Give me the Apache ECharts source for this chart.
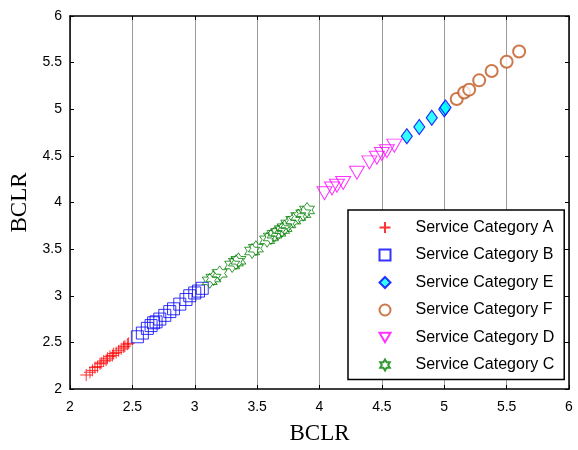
<!DOCTYPE html>
<html>
<head>
<meta charset="utf-8">
<script src="https://cdn.jsdelivr.net/npm/echarts@6/dist/echarts.min.js"></script>
<style>
  html, body { margin: 0; padding: 0; background: #fff; }
  #chart { width: 578px; height: 450px; }
</style>
</head>
<body>
<div id="chart"></div>
<script>
// values
const xTicks = [2, 2.5, 3, 3.5, 4, 4.5, 5, 5.5, 6];
const yTicks = [2, 2.5, 3, 3.5, 4, 4.5, 5, 5.5, 6];

const catA_x = [2.13, 2.16, 2.18, 2.2, 2.22, 2.24, 2.25, 2.27, 2.29, 2.3, 2.32, 2.34, 2.35, 2.37, 2.39, 2.41, 2.43, 2.44, 2.46, 2.47];
const catA_y = [2.15, 2.18, 2.2, 2.23, 2.24, 2.27, 2.28, 2.3, 2.31, 2.33, 2.35, 2.36, 2.38, 2.39, 2.41, 2.43, 2.45, 2.46, 2.48, 2.49];

const catB_x = [2.54, 2.58, 2.62, 2.65, 2.67, 2.69, 2.72, 2.76, 2.8, 2.83, 2.88, 2.93, 2.96, 3.0, 3.03, 3.06];
const catB_y = [2.56, 2.6, 2.65, 2.68, 2.71, 2.72, 2.75, 2.79, 2.83, 2.86, 2.91, 2.96, 3.0, 3.03, 3.05, 3.08];

const catE_x = [4.7, 4.8, 4.9, 5.0, 5.01];
const catE_y = [4.71, 4.81, 4.91, 5.0, 5.02];

const catF_x = [5.1, 5.16, 5.2, 5.28, 5.38, 5.5, 5.6];
const catF_y = [5.11, 5.18, 5.21, 5.31, 5.41, 5.51, 5.62];

const catD_x = [4.04, 4.1, 4.14, 4.19, 4.3, 4.4, 4.46, 4.5, 4.54, 4.6];
const catD_y = [4.1, 4.15, 4.18, 4.21, 4.32, 4.43, 4.48, 4.52, 4.55, 4.61];

const catC_x = [3.12, 3.15, 3.2, 3.3, 3.33, 3.35, 3.46, 3.49, 3.58, 3.61, 3.64, 3.67, 3.7, 3.72, 3.75, 3.79, 3.83, 3.87, 3.9];
const catC_y = [3.16, 3.19, 3.24, 3.33, 3.36, 3.38, 3.48, 3.51, 3.6, 3.63, 3.66, 3.68, 3.71, 3.73, 3.77, 3.81, 3.85, 3.88, 3.92];

const plusPath = 'path://M0,5 L10,5 M5,0 L5,10';
const triDownPath = 'path://M0,0 L10,0 L5,8.66 Z';
const starPath = 'path://M0,-10 L2.887,-5 L8.66,-5 L5.774,0 L8.66,5 L2.887,5 L0,10 L-2.887,5 L-8.66,5 L-5.774,0 L-8.66,-5 L-2.887,-5 Z';

const zip = (xs, ys) => xs.map((x, i) => [x, ys[i]]);

const chart = echarts.init(document.getElementById('chart'), null, { renderer: 'canvas' });

const tickFmt = v => (xTicks.includes(v) || yTicks.includes(v)) ? String(v) : '';

const option = {
  animation: false,
  backgroundColor: '#fff',
  grid: { left: 70, right: 9, top: 16, bottom: 60 },
  legend: {
    orient: 'vertical',
    left: 348,
    top: 210,
    backgroundColor: '#fff',
    borderColor: '#000',
    borderWidth: 1.5,
    borderRadius: 0,
    padding: [9, 10, 6, 29],
    itemWidth: 11,
    itemHeight: 11,
    itemGap: 10.5,
    textStyle: { fontFamily: 'Liberation Sans', fontSize: 16, color: '#000', lineHeight: 17, padding: [0, 0, 0, 20] },
    data: ['Service Category A', 'Service Category B', 'Service Category E', 'Service Category F', 'Service Category D', 'Service Category C']
  },
  xAxis: [{
    type: 'value', min: 2, max: 6, interval: 0.5,
    name: 'BCLR', nameLocation: 'middle', nameGap: 33,
    nameTextStyle: { fontFamily: 'Liberation Serif', fontSize: 23, color: '#000' },
    axisLine: { show: true, onZero: false, lineStyle: { color: '#000', width: 1.5 } },
    axisTick: { show: true, inside: true, length: 4, lineStyle: { color: '#000' } },
    axisLabel: { color: '#000', fontFamily: 'Liberation Sans', fontSize: 14, margin: 11, formatter: tickFmt },
    splitLine: { show: true, lineStyle: { color: '#9a9a9a', width: 1 } }
  }, {
    type: 'value', min: 2, max: 6, interval: 0.5, position: 'top',
    axisLine: { show: true, onZero: false, lineStyle: { color: '#000', width: 1.5 } },
    axisTick: { show: true, inside: true, length: 4, lineStyle: { color: '#000' } },
    axisLabel: { show: false },
    splitLine: { show: false }
  }],
  yAxis: [{
    type: 'value', min: 2, max: 6, interval: 0.5,
    name: 'BCLR', nameLocation: 'middle', nameGap: 35,
    nameTextStyle: { fontFamily: 'Liberation Serif', fontSize: 23, color: '#000' },
    axisLine: { show: true, onZero: false, lineStyle: { color: '#000', width: 1.5 } },
    axisTick: { show: true, inside: true, length: 4, lineStyle: { color: '#000' } },
    axisLabel: { color: '#000', fontFamily: 'Liberation Sans', fontSize: 14, margin: 8, formatter: tickFmt },
    splitLine: { show: false }
  }, {
    type: 'value', min: 2, max: 6, interval: 0.5, position: 'right',
    axisLine: { show: true, onZero: false, lineStyle: { color: '#000', width: 1.5 } },
    axisTick: { show: true, inside: true, length: 4, lineStyle: { color: '#000' } },
    axisLabel: { show: false },
    splitLine: { show: false }
  }],
  series: [
    {
      name: 'Service Category A', type: 'scatter', data: zip(catA_x, catA_y),
      symbol: plusPath, symbolSize: 12,
      itemStyle: { color: 'none', borderColor: '#ff0000', borderWidth: 1 }
    },
    {
      name: 'Service Category B', type: 'scatter', data: zip(catB_x, catB_y),
      symbol: 'rect', symbolSize: 12,
      itemStyle: { color: 'none', borderColor: '#0000ff', borderWidth: 1 }
    },
    {
      name: 'Service Category E', type: 'scatter', data: zip(catE_x, catE_y),
      symbol: 'diamond', symbolSize: [11, 15],
      itemStyle: { color: '#00ffff', borderColor: '#0000ff', borderWidth: 1.2 }
    },
    {
      name: 'Service Category F', type: 'scatter', data: zip(catF_x, catF_y),
      symbol: 'emptyCircle', symbolSize: 12,
      itemStyle: { color: '#c0561f', borderColor: '#c0561f', borderWidth: 1 }
    },
    {
      name: 'Service Category D', type: 'scatter', data: zip(catD_x, catD_y),
      symbol: triDownPath, symbolSize: [15, 13],
      itemStyle: { color: 'none', borderColor: '#ff00ff', borderWidth: 1 }
    },
    {
      name: 'Service Category C', type: 'scatter', data: zip(catC_x, catC_y),
      symbol: starPath, symbolSize: 15,
      itemStyle: { color: 'none', borderColor: '#008000', borderWidth: 1 }
    }
  ]
};

chart.setOption(option);
</script>
</body>
</html>
